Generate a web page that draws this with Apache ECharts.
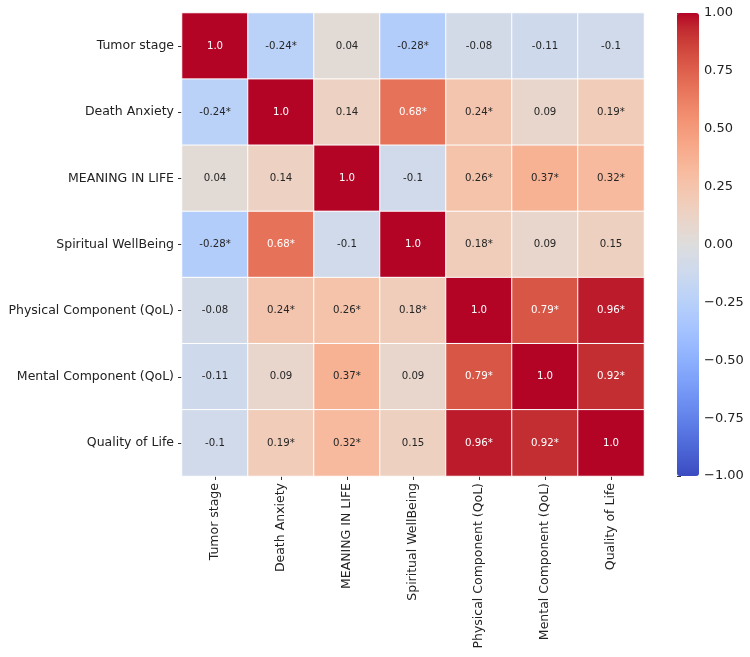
<!DOCTYPE html>
<html>
<head>
<meta charset="utf-8">
<script src="https://cdn.jsdelivr.net/npm/echarts@6/dist/echarts.min.js"></script>
<style>
  html, body { margin: 0; padding: 0; background: #fff; }
  #chart { width: 750px; height: 657px; }
</style>
</head>
<body>
<div id="chart"></div>
<script>
const variables = [
  "Tumor stage",
  "Death Anxiety",
  "MEANING IN LIFE",
  "Spiritual WellBeing",
  "Physical Component (QoL)",
  "Mental Component (QoL)",
  "Quality of Life"
];

// correlation values, row by row
const corrValues = [
  [1.0, -0.24, 0.04, -0.28, -0.08, -0.11, -0.1],
  [-0.24, 1.0, 0.14, 0.68, 0.24, 0.09, 0.19],
  [0.04, 0.14, 1.0, -0.1, 0.26, 0.37, 0.32],
  [-0.28, 0.68, -0.1, 1.0, 0.18, 0.09, 0.15],
  [-0.08, 0.24, 0.26, 0.18, 1.0, 0.79, 0.96],
  [-0.11, 0.09, 0.37, 0.09, 0.79, 1.0, 0.92],
  [-0.1, 0.19, 0.32, 0.15, 0.96, 0.92, 1.0]
];

// annotation text as printed in each cell
const cellLabels = [
  ["1.0", "-0.24*", "0.04", "-0.28*", "-0.08", "-0.11", "-0.1"],
  ["-0.24*", "1.0", "0.14", "0.68*", "0.24*", "0.09", "0.19*"],
  ["0.04", "0.14", "1.0", "-0.1", "0.26*", "0.37*", "0.32*"],
  ["-0.28*", "0.68*", "-0.1", "1.0", "0.18*", "0.09", "0.15"],
  ["-0.08", "0.24*", "0.26*", "0.18*", "1.0", "0.79*", "0.96*"],
  ["-0.11", "0.09", "0.37*", "0.09", "0.79*", "1.0", "0.92*"],
  ["-0.1", "0.19*", "0.32*", "0.15", "0.96*", "0.92*", "1.0"]
];

const colorbarMin = -1;
const colorbarMax = 1;
const colorbarStep = 0.25;

// matplotlib coolwarm (Moreland) sampled at 33 even stops
const coolwarm = [
  "#3b4cc0", "#445acc", "#4d68d7", "#5775e1", "#6282ea", "#6c8ef1", "#779af7", "#82a5fb",
  "#8db0fe", "#98b9ff", "#a3c2ff", "#aec9fd", "#b8d0f9", "#c2d5f4", "#ccd9ee", "#d5dbe6",
  "#dddddd", "#e5d8d1", "#ecd3c5", "#f1ccb8", "#f5c4ac", "#f7bb9f", "#f7b193", "#f7a686",
  "#f49a7b", "#f18d6f", "#ec7f63", "#e57058", "#de604d", "#d55042", "#cb3e38", "#c0282f",
  "#b40426"
];

const heatData = [];
corrValues.forEach((row, r) => {
  row.forEach((v, c) => {
    heatData.push({
      value: [c, r, v],
      label: { color: v >= 0.5 ? "#ffffff" : "#262626" },
      text: cellLabels[r][c]
    });
  });
});

const chart = echarts.init(document.getElementById("chart"));
const font = "DejaVu Sans";

chart.setOption({
  animation: false,
  textStyle: { fontFamily: font },
  grid: [
    { left: 182, top: 13, width: 462, height: 463 },
    { left: 677, top: 13, width: 22, height: 463 }
  ],
  xAxis: [
    {
      type: "category",
      gridIndex: 0,
      data: variables,
      position: "bottom",
      axisLine: { show: false },
      splitLine: { show: false },
      axisTick: { show: true, alignWithLabel: true, length: 4, lineStyle: { color: "#333" } },
      axisLabel: { rotate: 90, fontSize: 12.5, color: "#222", margin: 7, fontFamily: font, interval: 0 }
    },
    { type: "value", gridIndex: 1, show: false, min: 0, max: 1 }
  ],
  yAxis: [
    {
      type: "category",
      gridIndex: 0,
      data: variables,
      inverse: true,
      axisLine: { show: false },
      splitLine: { show: false },
      axisTick: { show: true, alignWithLabel: true, length: 4, lineStyle: { color: "#333" } },
      axisLabel: { fontSize: 12.5, color: "#222", margin: 8, fontFamily: font, interval: 0 }
    },
    {
      type: "value",
      gridIndex: 1,
      min: colorbarMin,
      max: colorbarMax,
      interval: colorbarStep,
      position: "right",
      axisLine: { show: false },
      splitLine: { show: false },
      axisTick: { show: true, length: 4, lineStyle: { color: "#333" } },
      axisLabel: {
        fontSize: 13,
        color: "#222",
        margin: 5,
        fontFamily: font,
        formatter: v => v.toFixed(2).replace("-", "\u2212")
      }
    }
  ],
  visualMap: {
    type: "continuous",
    min: colorbarMin,
    max: colorbarMax,
    seriesIndex: 0,
    dimension: 2,
    calculable: false,
    orient: "vertical",
    left: 677,
    top: 13,
    itemWidth: 22,
    itemHeight: 463,
    padding: 0,
    text: null,
    showLabel: false,
    inRange: { color: coolwarm }
  },
  series: [
    {
      type: "heatmap",
      xAxisIndex: 0,
      yAxisIndex: 0,
      data: heatData,
      itemStyle: { borderColor: "#ffffff", borderWidth: 1 },
      label: {
        show: true,
        fontSize: 10.2,
        fontFamily: font,
        formatter: p => p.data.text
      },
      emphasis: { disabled: true }
    },
    {
      type: "line",
      xAxisIndex: 1,
      yAxisIndex: 1,
      data: [],
      silent: true
    }
  ]
});
</script>
</body>
</html>
